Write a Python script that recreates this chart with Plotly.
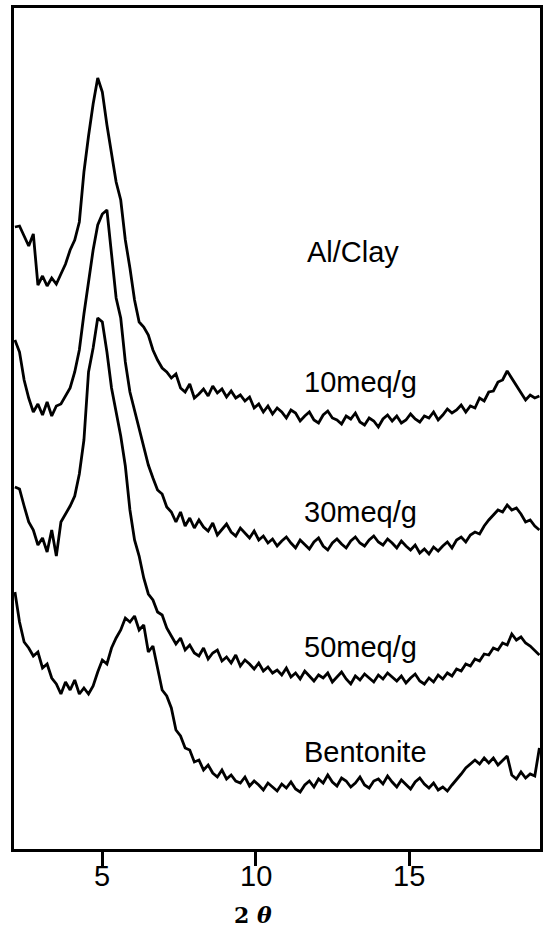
import plotly.graph_objects as go

# 2-theta sampling (degrees)
two_theta = [2.15, 2.30, 2.45, 2.60, 2.75, 2.90, 3.05, 3.20, 3.35, 3.50,
             3.65, 3.80, 3.95, 4.10, 4.25, 4.40, 4.55, 4.70, 4.85, 5.00,
             5.15, 5.30, 5.45, 5.60, 5.75, 5.90, 6.05, 6.20, 6.35, 6.50,
             6.65, 6.80, 6.95, 7.10, 7.25, 7.40, 7.55, 7.70, 7.85, 8.00,
             8.15, 8.30, 8.45, 8.60, 8.75, 8.90, 9.05, 9.20, 9.35, 9.50,
             9.65, 9.80, 9.95, 10.10, 10.25, 10.40, 10.55, 10.70, 10.85, 11.00,
             11.15, 11.30, 11.45, 11.60, 11.75, 11.90, 12.05, 12.20, 12.35, 12.50,
             12.65, 12.80, 12.95, 13.10, 13.25, 13.40, 13.55, 13.70, 13.85, 14.00,
             14.15, 14.30, 14.45, 14.60, 14.75, 14.90, 15.05, 15.20, 15.35, 15.50,
             15.65, 15.80, 15.95, 16.10, 16.25, 16.40, 16.55, 16.70, 16.85, 17.00,
             17.15, 17.30, 17.45, 17.60, 17.75, 17.90, 18.05, 18.20, 18.35, 18.50,
             18.65, 18.80, 18.95, 19.10, 19.25]

# Stacked intensities (arbitrary units, offset as in the figure)
al_clay = [622, 623, 613, 603, 615, 564, 573, 563, 571, 565,
           575, 585, 599, 609, 627, 677, 713, 745, 771, 757,
           724, 693, 667, 649, 609, 581, 549, 527, 522, 514,
           499, 489, 481, 477, 471, 475, 461, 457, 465, 451,
           455, 460, 453, 463, 456, 460, 452, 458, 451, 454,
           448, 452, 441, 445, 437, 443, 435, 441, 437, 431,
           439, 436, 428, 433, 437, 429, 426, 434, 438, 431,
           429, 425, 433, 430, 436, 427, 424, 431, 428, 422,
           430, 434, 428, 433, 426, 429, 435, 430, 427, 433,
           431, 437, 429, 434, 440, 436, 439, 444, 437, 443,
           441, 451, 448, 457, 458, 467, 469, 478, 471, 464,
           456, 449, 454, 451, 453]

meq10 = [509, 497, 469, 451, 437, 445, 434, 447, 433, 443,
         445, 453, 461, 477, 499, 535, 569, 599, 624, 635,
         639, 594, 551, 531, 487, 457, 439, 421, 403, 384,
         371, 359, 355, 342, 337, 327, 337, 323, 331, 321,
         329, 322, 318, 326, 314, 320, 325, 317, 313, 321,
         316, 311, 318, 309, 313, 306, 310, 303, 308, 312,
         306, 301, 309, 304, 300, 307, 311, 303, 299, 306,
         310, 305, 301, 308, 312, 306, 303, 309, 313, 307,
         304, 310, 306, 301, 308, 303, 299, 304, 296, 300,
         295, 302, 298, 303, 307, 301, 309, 312, 307, 314,
         317, 315, 323, 329, 334, 339, 337, 344, 339, 341,
         335, 327, 329, 323, 319]

meq30 = [362, 360, 343, 327, 319, 304, 311, 297, 319, 293,
         327, 335, 343, 353, 375, 409, 477, 501, 531, 527,
         497, 461, 437, 413, 383, 339, 309, 293, 271, 255,
         249, 237, 234, 221, 213, 205, 211, 199, 204, 196,
         193, 201, 190, 196, 199, 188, 192, 186, 194, 183,
         189, 185, 180, 186, 178, 182, 176, 179, 174, 181,
         172, 176, 170, 178, 173, 168, 174, 171, 176, 167,
         172, 177, 170, 165, 173, 169, 175, 171, 167, 174,
         170, 176, 172, 168, 173, 166, 171, 175, 168, 165,
         171, 167, 174, 170, 176, 173, 180, 178, 185, 183,
         190, 188, 195, 194, 201, 199, 206, 204, 215, 209,
         212, 206, 203, 198, 194]

bentonite = [257, 227, 207, 201, 193, 197, 181, 185, 171, 165,
             155, 167, 159, 169, 155, 161, 155, 163, 177, 189,
             185, 201, 211, 219, 231, 227, 233, 219, 224, 197,
             203, 181, 159, 153, 141, 119, 113, 101, 99, 87,
             89, 79, 84, 76, 72, 79, 70, 74, 68, 66,
             72, 63, 68, 64, 59, 66, 62, 58, 65, 61,
             67, 60, 57, 64, 68, 62, 70, 66, 74, 67,
             63, 71, 68, 62, 66, 72, 64, 61, 68, 70,
             65, 73, 67, 62, 69, 64, 60, 67, 71, 65,
             61, 66, 59, 62, 58, 64, 69, 75, 81, 85,
             89, 85, 91, 86, 91, 84, 89, 93, 74, 70,
             77, 71, 75, 73, 101]

series = [al_clay, meq10, meq30, bentonite]

labels = ["Al/Clay", "10meq/g", "30meq/g", "50meq/g", "Bentonite"]
label_x = [11.6, 11.5, 11.5, 11.5, 11.5]
label_y = [597, 467, 337, 202, 97]

x_ticks = [5, 10, 15]
x_title = "<b>2 <i>θ</i></b>"

LABEL_FONT = "Liberation Sans, Arial, sans-serif"

fig = go.Figure()
for s in series:
    fig.add_trace(go.Scatter(x=two_theta, y=s, mode="lines",
                             line=dict(color="black", width=2.8),
                             showlegend=False, hoverinfo="skip"))

for t, lx, ly in zip(labels, label_x, label_y):
    fig.add_annotation(x=lx, y=ly, text=t, showarrow=False,
                       xanchor="left", yanchor="middle",
                       font=dict(family=LABEL_FONT, size=29, color="black"))

# tick labels
for v in x_ticks:
    fig.add_annotation(x=v, y=-0.032, xref="x", yref="paper",
                       text=str(v), showarrow=False,
                       xanchor="center", yanchor="middle",
                       font=dict(family=LABEL_FONT, size=29, color="black"))

fig.add_annotation(x=9.9, y=-0.079, xref="x", yref="paper",
                   text=x_title, showarrow=False,
                   xanchor="center", yanchor="middle",
                   font=dict(family="DejaVu Serif, serif", size=22, color="black"))

fig.update_xaxes(range=[2.12, 19.27], tickvals=x_ticks, showticklabels=False,
                 ticks="outside", ticklen=14, tickwidth=3, tickcolor="black",
                 showline=True, linewidth=3, linecolor="black", mirror=True,
                 showgrid=False, zeroline=False)
fig.update_yaxes(range=[0, 841], showticklabels=False, ticks="",
                 showline=True, linewidth=3, linecolor="black", mirror=True,
                 showgrid=False, zeroline=False)

fig.update_layout(width=546, height=933,
                  margin=dict(l=14, r=3, t=8, b=84),
                  paper_bgcolor="white", plot_bgcolor="white")

fig.write_html("out.html")
